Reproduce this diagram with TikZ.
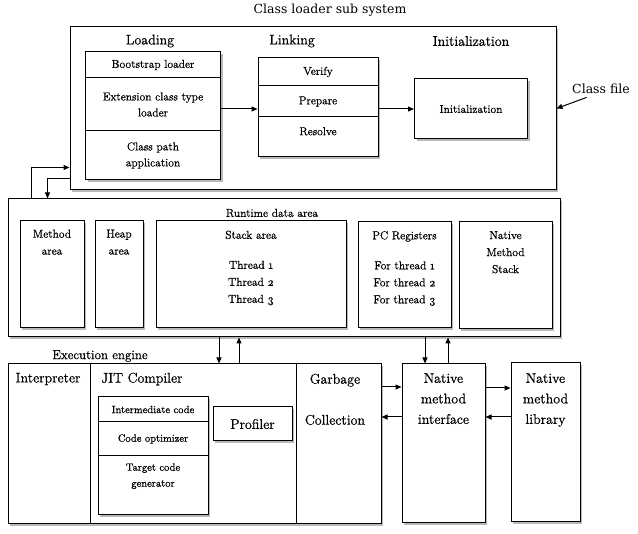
\documentclass[tikz,border=0pt]{standalone}
\usepackage{fontspec}
\usepackage{amsmath}
\usetikzlibrary{arrows.meta,shadows}
\setmainfont{Latin Modern Roman}[RawFeature={embolden=0.8}]
\newfontfamily\slabfont{DejaVu Serif}
\newcommand\osn[1]{{\addfontfeature{Numbers=OldStyle}#1}}

\begin{document}
\begin{tikzpicture}[x=1pt,y=-1pt,
	blk/.style={draw,fill=white,line width=1pt,inner sep=0pt,drop shadow={shadow xshift=2pt,shadow yshift=-2pt,opacity=0.55}},
	ar/.style={-{Triangle[length=6pt,width=5pt]},line width=1pt},
	big/.style={font=\fontsize{14}{20.5}\selectfont,align=center},
	mid/.style={font=\fontsize{11.5}{17}\selectfont,align=center},
	sml/.style={font=\fontsize{10.5}{16}\selectfont,align=center},
	toptxt/.style={anchor=north,inner sep=0pt}]
	\useasboundingbox (0,0) rectangle (638,534);

	% class loader sub system
	\node (loader) at (313,108.5) [blk,minimum width=486,minimum height=163] {};
	\node (title) at (330,10) [font=\slabfont\fontsize{12.5}{14}\selectfont] {Class loader sub system};
	\node (loading) at (150,41) [big] {Loading};
	\node (linking) at (292,41) [big] {Linking};
	\node (initz) at (471,41) [big] {Initialization};

	\node (boot) at (153,65) [blk,minimum width=135,minimum height=26,mid] {Bootstrap loader};
	\node (ext) at (153,104.5) [blk,minimum width=135,minimum height=53,mid,font=\fontsize{11.5}{16}\selectfont] {Extension class type\\loader};
	\node (cpath) at (153,155.5) [blk,minimum width=135,minimum height=49,mid,font=\fontsize{11.5}{16}\selectfont] {Class path\\application};

	\node (verify) at (318,72) [blk,minimum width=120,minimum height=28,mid] {Verify};
	\node (prep) at (318,101.5) [blk,minimum width=120,minimum height=31,mid] {Prepare};
	\node (resolve) at (318,137) [blk,minimum width=120,minimum height=40] {};
	\node (restxt) at (resolve.north) [mid,toptxt,yshift=-10.5pt] {Resolve};

	\node (init) at (471,109) [blk,minimum width=113,minimum height=60,mid] {Initialization};

	\draw[ar] (init.west -| ext.east) -- (init.west -| prep.west);
	\draw[ar] (init.west -| prep.east) -- (init.west);

	\node (cfile) at (601,89) [font=\slabfont\fontsize{12.5}{14}\selectfont] {Class file};
	\draw[ar] ([xshift=18pt]cfile.south west) -- (loader.east);

	% runtime data area
	\node (runtime) at (284,268) [blk,minimum width=552,minimum height=138] {};
	\node (rtitle) at (272,213) [mid] {Runtime data area};
	\node (method) at (52,274.5) [blk,minimum width=64,minimum height=107] {};
	\node (methodtxt) at (method.north) [mid,toptxt,yshift=-9pt] {Method\\area};
	\node (heap) at (119,274.5) [blk,minimum width=48,minimum height=107] {};
	\node (heaptxt) at (heap.north) [mid,toptxt,yshift=-9pt] {Heap\\area};
	\node (stack) at (251,274.5) [blk,minimum width=190,minimum height=107] {};
	\node (stacktxt) at (stack.north) [mid,toptxt,yshift=-10pt] {Stack area\\[13pt]Thread \osn{1}\\Thread \osn{2}\\Thread \osn{3}};
	\node (pcreg) at (404.5,275) [blk,minimum width=93,minimum height=106] {};
	\node (pctxt) at (pcreg.north) [mid,toptxt,yshift=-9.5pt] {PC Registers\\[13pt]For thread \osn{1}\\For thread \osn{2}\\For thread \osn{3}};
	\node (nstack) at (505.5,275.5) [blk,minimum width=93,minimum height=107] {};
	\node (nstacktxt) at (nstack.north) [mid,toptxt,yshift=-9.5pt] {Native\\Method\\Stack};

	\draw[ar] ([xshift=24pt]runtime.north west) |- ([yshift=23pt]loader.south west);
	\draw[ar] ([yshift=12pt]loader.south west) -| ([xshift=40pt]runtime.north west);

	% execution engine
	\node (exlabel) at (100,356) [font=\fontsize{13}{16}\selectfont] {Execution engine};
	\node (interp) at (49,444) [blk,minimum width=82,minimum height=160] {};
	\node (jit) at (193,444) [blk,minimum width=206,minimum height=160] {};
	\node (gc) at (338.5,444) [blk,minimum width=85,minimum height=160] {};
	\node (interptxt) at (48,379) [big] {Interpreter};
	\node (jittxt) at (101,379) [big,anchor=west,inner sep=0pt] {JIT Compiler};
	\node (gctxt) at (335,373.6) [big,toptxt] {Garbage\\[20.5pt]Collection};

	\node (inter) at (153,409.5) [blk,minimum width=110,minimum height=25,sml] {Intermediate code};
	\node (opt) at (153,439) [blk,minimum width=110,minimum height=34,sml] {Code optimizer};
	\node (tgt) at (153,485.5) [blk,minimum width=110,minimum height=59] {};
	\node (tgttxt) at (tgt.north) [sml,toptxt,yshift=-7.7pt] {Target code\\generator};
	\node (prof) at (252.5,424) [blk,minimum width=79,minimum height=34,big] {Profiler};

	% native method interface and library
	\node (nmi) at (443.5,443.5) [blk,minimum width=83,minimum height=159] {};
	\node (nmitxt) at (nmi.north) [big,toptxt,yshift=-9.6pt] {Native\\method\\interface};
	\node (nml) at (545.5,442.5) [blk,minimum width=69,minimum height=159] {};
	\node (nmltxt) at (nml.north) [big,toptxt,yshift=-10.6pt] {Native\\method\\library};

	\coordinate (rd) at ([xshift=26pt]jit.north);
	\coordinate (ru) at ([xshift=46pt]jit.north);
	\draw[ar] (rd |- runtime.south) -- (rd);
	\draw[ar] (ru) -- (ru |- runtime.south);
	\coordinate (nd) at ([xshift=-18.5pt]nmi.north);
	\coordinate (nu) at ([xshift=4.5pt]nmi.north);
	\draw[ar] (nd |- runtime.south) -- (nd);
	\draw[ar] (nu) -- (nu |- runtime.south);

	\coordinate (g1) at ([yshift=57pt]gc.east);
	\coordinate (g2) at ([yshift=27pt]gc.east);
	\draw[ar] (g1) -- (g1 -| nmi.west);
	\draw[ar] (g2 -| nmi.west) -- (g2);
	\coordinate (l1) at ([yshift=55.5pt]nmi.east);
	\coordinate (l2) at ([yshift=26.5pt]nmi.east);
	\draw[ar] (l1) -- (l1 -| nml.west);
	\draw[ar] (l2 -| nml.west) -- (l2);
\end{tikzpicture}
\end{document}
